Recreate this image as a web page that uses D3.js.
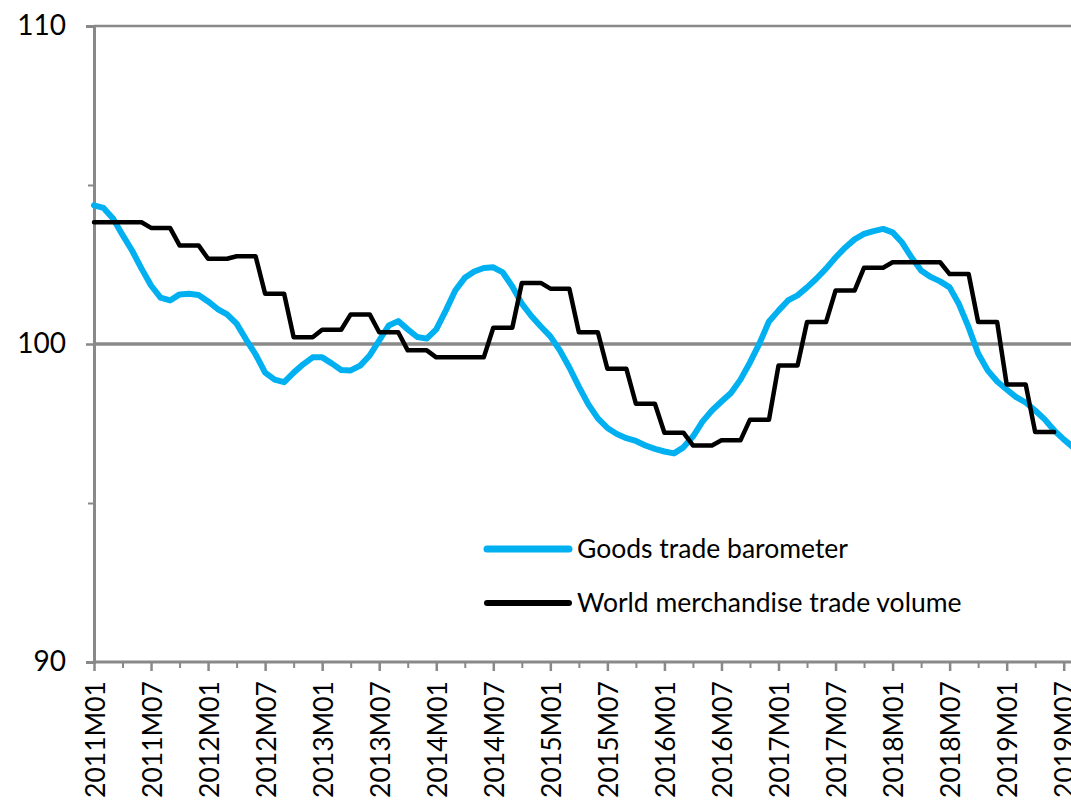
<!DOCTYPE html>
<html>
<head>
<meta charset="utf-8">
<script src="https://cdn.jsdelivr.net/npm/d3@7"></script>
<style>
  html, body { margin: 0; padding: 0; background: #ffffff; }
  svg { display: block; }
  text { font-family: Lato, "Open Sans", sans-serif; fill: #000; }
</style>
</head>
<body>
<svg id="chart" width="1071" height="800"></svg>
<script>
// ---------------- data ----------------
const months = [
  "2011M01","2011M02","2011M03","2011M04","2011M05","2011M06","2011M07","2011M08","2011M09","2011M10","2011M11","2011M12",
  "2012M01","2012M02","2012M03","2012M04","2012M05","2012M06","2012M07","2012M08","2012M09","2012M10","2012M11","2012M12",
  "2013M01","2013M02","2013M03","2013M04","2013M05","2013M06","2013M07","2013M08","2013M09","2013M10","2013M11","2013M12",
  "2014M01","2014M02","2014M03","2014M04","2014M05","2014M06","2014M07","2014M08","2014M09","2014M10","2014M11","2014M12",
  "2015M01","2015M02","2015M03","2015M04","2015M05","2015M06","2015M07","2015M08","2015M09","2015M10","2015M11","2015M12",
  "2016M01","2016M02","2016M03","2016M04","2016M05","2016M06","2016M07","2016M08","2016M09","2016M10","2016M11","2016M12",
  "2017M01","2017M02","2017M03","2017M04","2017M05","2017M06","2017M07","2017M08","2017M09","2017M10","2017M11","2017M12",
  "2018M01","2018M02","2018M03","2018M04","2018M05","2018M06","2018M07","2018M08","2018M09","2018M10","2018M11","2018M12",
  "2019M01","2019M02","2019M03","2019M04","2019M05","2019M06","2019M07","2019M08"
];

// Goods trade barometer (monthly)
const barometer = [
  104.36,104.28,103.95,103.43,102.94,102.37,101.84,101.46,101.37,101.56,101.58,101.54,
  101.34,101.10,100.93,100.64,100.14, 99.67, 99.10, 98.88, 98.80, 99.10, 99.36, 99.58,
   99.58, 99.39, 99.18, 99.17, 99.32, 99.64,100.11,100.58,100.72,100.46,100.22,100.17,
  100.46,101.05,101.68,102.08,102.28,102.39,102.41,102.25,101.81,101.27,100.88,100.55,
  100.24, 99.80, 99.26, 98.66, 98.10, 97.66, 97.36, 97.17, 97.04, 96.95, 96.81, 96.70,
   96.62, 96.56, 96.75, 97.09, 97.56, 97.91, 98.19, 98.46, 98.88, 99.42,100.02,100.71,
  101.05,101.37,101.53,101.78,102.06,102.37,102.72,103.03,103.29,103.46,103.55,103.62,
  103.51,103.19,102.72,102.31,102.11,101.97,101.78,101.24,100.52, 99.70, 99.17, 98.82,
   98.57, 98.33, 98.16, 97.91, 97.63, 97.28, 97.00, 96.75
];

// World merchandise trade volume (quarterly values, shown on each month of the quarter)
const tradeVolume = [
  103.83,103.83,103.83, 103.83,103.83,103.83, 103.65,103.65,103.65, 103.10,103.10,103.10,
  102.68,102.68,102.68, 102.76,102.76,102.76, 101.58,101.58,101.58, 100.21,100.21,100.21,
  100.45,100.45,100.45, 100.93,100.93,100.93, 100.37,100.37,100.37,  99.80, 99.80, 99.80,
   99.58, 99.58, 99.58,  99.58, 99.58, 99.58, 100.51,100.51,100.51, 101.92,101.92,101.92,
  101.74,101.74,101.74, 100.37,100.37,100.37,  99.22, 99.22, 99.22,  98.12, 98.12, 98.12,
   97.21, 97.21, 97.21,  96.81, 96.81, 96.81,  96.97, 96.97, 96.97,  97.62, 97.62, 97.62,
   99.32, 99.32, 99.32, 100.69,100.69,100.69, 101.68,101.68,101.68, 102.40,102.40,102.40,
  102.57,102.57,102.57, 102.57,102.57,102.57, 102.20,102.20,102.20, 100.69,100.69,100.69,
   98.73, 98.73, 98.73,  97.23, 97.23, 97.23
];

const xTickLabels = ["2011M01","2011M07","2012M01","2012M07","2013M01","2013M07","2014M01","2014M07",
  "2015M01","2015M07","2016M01","2016M07","2017M01","2017M07","2018M01","2018M07","2019M01","2019M07"];
const xMinorTicks = ["2011M04","2011M10","2012M04","2012M10","2013M04","2013M10","2014M04","2014M10",
  "2015M04","2015M10","2016M04","2016M10","2017M04","2017M10","2018M04","2018M10","2019M04"];
const yTickValues = [90, 100, 110];
const yMinorTicks = [95, 105];

const seriesNames = ["Goods trade barometer", "World merchandise trade volume"];
const seriesColors = ["#00B0F0", "#000000"];

// ---------------- chart ----------------
const svg = d3.select("#chart");
const axisColor = "#898989";

const x = d3.scalePoint().domain(months).range([94, 94 + 103 * 9.507]);
const y = d3.scaleLinear().domain([90, 110]).range([662, 26]);

// gridlines at 100 and 110
svg.append("line")
  .attr("x1", 94).attr("x2", 1071)
  .attr("y1", y(110)).attr("y2", y(110))
  .attr("stroke", axisColor).attr("stroke-width", 2.5);
svg.append("line")
  .attr("x1", 94).attr("x2", 1071)
  .attr("y1", y(100)).attr("y2", y(100))
  .attr("stroke", axisColor).attr("stroke-width", 3.5);

// Y axis
const yAxis = svg.append("g").attr("transform", "translate(94,0)")
  .call(d3.axisLeft(y).tickValues(yTickValues).tickSize(8).tickPadding(20).tickFormat(d3.format("d")));
yAxis.select(".domain").attr("stroke", axisColor).attr("stroke-width", 3);
yAxis.selectAll(".tick line").attr("stroke", axisColor).attr("stroke-width", 2.5);
yAxis.selectAll(".tick text").style("font-size", "28px").attr("fill", "#000");
const yMinor = svg.append("g").attr("transform", "translate(94,0)")
  .call(d3.axisLeft(y).tickValues(yMinorTicks).tickSize(6).tickFormat(""));
yMinor.select(".domain").remove();
yMinor.selectAll(".tick line").attr("stroke", axisColor).attr("stroke-width", 2);

// X axis
const xAxis = svg.append("g").attr("transform", `translate(0,${y(90)})`)
  .call(d3.axisBottom(x).tickValues(xTickLabels).tickSize(9).tickFormat(""));
xAxis.select(".domain").attr("d", `M${x(months[0])},0H1071`).attr("stroke", axisColor).attr("stroke-width", 3);
xAxis.selectAll(".tick line").attr("stroke", axisColor).attr("stroke-width", 2.5);
const xMinor = svg.append("g").attr("transform", `translate(0,${y(90)})`)
  .call(d3.axisBottom(x).tickValues(xMinorTicks).tickSize(6).tickFormat(""));
xMinor.select(".domain").remove();
xMinor.selectAll(".tick line").attr("stroke", axisColor).attr("stroke-width", 2);

svg.append("g").selectAll("text").data(xTickLabels).join("text")
  .attr("transform", d => `translate(${x(d) + 10.5},681) rotate(-90)`)
  .attr("text-anchor", "end")
  .style("font-size", "27px")
  .text(d => d)
  .each(function() {
    // keep each label inside the picture (the reference fills 681 → 800)
    const len = this.getComputedTextLength();
    if (len > 117) d3.select(this).attr("textLength", 117).attr("lengthAdjust", "spacingAndGlyphs");
  });

// Lines
const plot = svg.append("g");
const line = d3.line().x((d, i) => x(months[i])).y(d => y(d));

plot.append("path").datum(barometer)
  .attr("d", line).attr("fill", "none")
  .attr("stroke", seriesColors[0]).attr("stroke-width", 6)
  .attr("stroke-linejoin", "round").attr("stroke-linecap", "round");

plot.append("path").datum(tradeVolume)
  .attr("d", line).attr("fill", "none")
  .attr("stroke", seriesColors[1]).attr("stroke-width", 4.5)
  .attr("stroke-linejoin", "round").attr("stroke-linecap", "round");

// Legend
const legend = svg.append("g");
const legendY = [549, 603];
seriesNames.forEach((name, i) => {
  legend.append("line")
    .attr("x1", 487).attr("x2", 569)
    .attr("y1", legendY[i]).attr("y2", legendY[i])
    .attr("stroke", seriesColors[i]).attr("stroke-width", i === 0 ? 7 : 6)
    .attr("stroke-linecap", "round");
  legend.append("text")
    .attr("x", 577).attr("y", legendY[i] + 9)
    .style("font-size", "26.5px")
    .text(name);
});
</script>
</body>
</html>
